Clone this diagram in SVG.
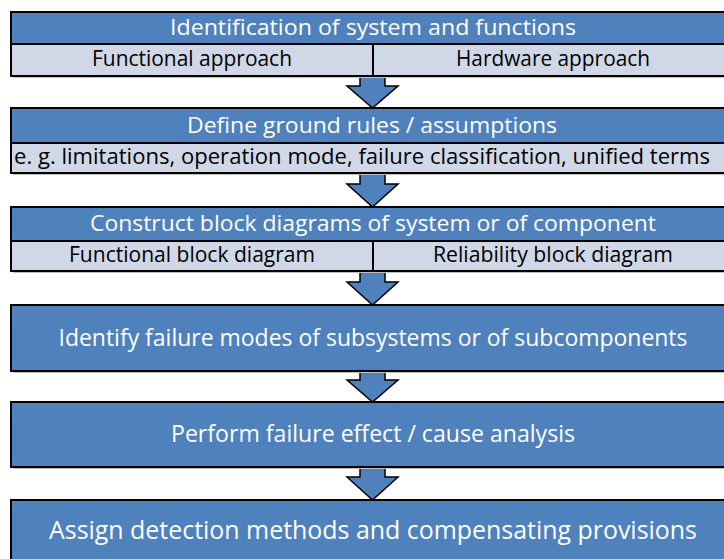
<svg xmlns="http://www.w3.org/2000/svg" width="724" height="559" viewBox="0 0 724 559">
<defs>
<style>
.hd{fill:#4F81BD;stroke:#000;stroke-width:2}
.sb{fill:#D0D8E8;stroke:#000;stroke-width:2}
.sh{fill:#BFBFBF}
.ar{fill:#4F81BD;stroke:#000;stroke-width:1.5;stroke-linejoin:miter}
.tw{fill:#FFFFFF;font-family:"Open Sans","Noto Sans",sans-serif;text-anchor:middle}
.tb{fill:#000000;font-family:"Open Sans","Noto Sans",sans-serif;text-anchor:middle}
</style>
</defs>
<rect width="724" height="559" fill="#FFFFFF"/>
<g id="connectors">
<path class="ar" d="M360,76 V86 H347 L372.5,108 L398,86 H385 V76 Z"/>
<path class="ar" d="M360,173 V184 H347 L372.5,207 L398,184 H385 V173 Z"/>
<path class="ar" d="M360,271 V282 H347 L372.5,305 L398,282 H385 V271 Z"/>
<path class="ar" d="M360,371 V380 H347 L372.5,402 L398,380 H385 V371 Z"/>
<path class="ar" d="M360,467 V477 H347 L372.5,500 L398,477 H385 V467 Z"/>
</g>
<g id="node1">
<rect class="sh" x="13" y="76" width="724" height="2"/>
<rect class="hd" x="11" y="12" width="724" height="32"/>
<rect class="sb" x="11" y="44" width="724" height="32"/>
<line x1="373" y1="44" x2="373" y2="76" stroke="#000" stroke-width="2"/>
<text class="tw" x="373" y="35" font-size="22" textLength="406" lengthAdjust="spacingAndGlyphs">Identification of system and functions</text>
<text class="tb" x="192" y="66" font-size="21" textLength="200" lengthAdjust="spacingAndGlyphs">Functional approach</text>
<text class="tb" x="553" y="66" font-size="21" textLength="194" lengthAdjust="spacingAndGlyphs">Hardware approach</text>
</g>
<g id="node2">
<rect class="sh" x="13" y="173" width="724" height="2"/>
<rect class="hd" x="11" y="108" width="724" height="35"/>
<rect class="sb" x="11" y="143" width="724" height="30"/>
<text class="tw" x="372" y="133" font-size="22" textLength="370" lengthAdjust="spacingAndGlyphs">Define ground rules / assumptions</text>
<text class="tb" x="362" y="164" font-size="21" textLength="696" lengthAdjust="spacingAndGlyphs">e. g. limitations, operation mode, failure classification, unified terms</text>
</g>
<g id="node3">
<rect class="sh" x="13" y="271" width="724" height="2"/>
<rect class="hd" x="11" y="207" width="724" height="34"/>
<rect class="sb" x="11" y="241" width="724" height="30"/>
<line x1="373" y1="241" x2="373" y2="271" stroke="#000" stroke-width="2"/>
<text class="tw" x="373" y="231" font-size="22" textLength="566" lengthAdjust="spacingAndGlyphs">Construct block diagrams of system or of component</text>
<text class="tb" x="192" y="262" font-size="21" textLength="246" lengthAdjust="spacingAndGlyphs">Functional block diagram</text>
<text class="tb" x="553" y="262" font-size="21" textLength="240" lengthAdjust="spacingAndGlyphs">Reliability block diagram</text>
</g>
<g id="node4">
<rect class="sh" x="13" y="371" width="724" height="2"/>
<rect class="hd" x="11" y="305" width="724" height="66"/>
<text class="tw" x="373" y="346" font-size="24" textLength="629" lengthAdjust="spacingAndGlyphs">Identify failure modes of subsystems or of subcomponents</text>
</g>
<g id="node5">
<rect class="sh" x="13" y="467" width="724" height="2"/>
<rect class="hd" x="11" y="402" width="724" height="65"/>
<text class="tw" x="373" y="442" font-size="24" textLength="404" lengthAdjust="spacingAndGlyphs">Perform failure effect / cause analysis</text>
</g>
<g id="node6">
<rect class="hd" x="11" y="500" width="724" height="70"/>
<text class="tw" x="373" y="539" font-size="25" textLength="648" lengthAdjust="spacingAndGlyphs">Assign detection methods and compensating provisions</text>
</g>
</svg>
